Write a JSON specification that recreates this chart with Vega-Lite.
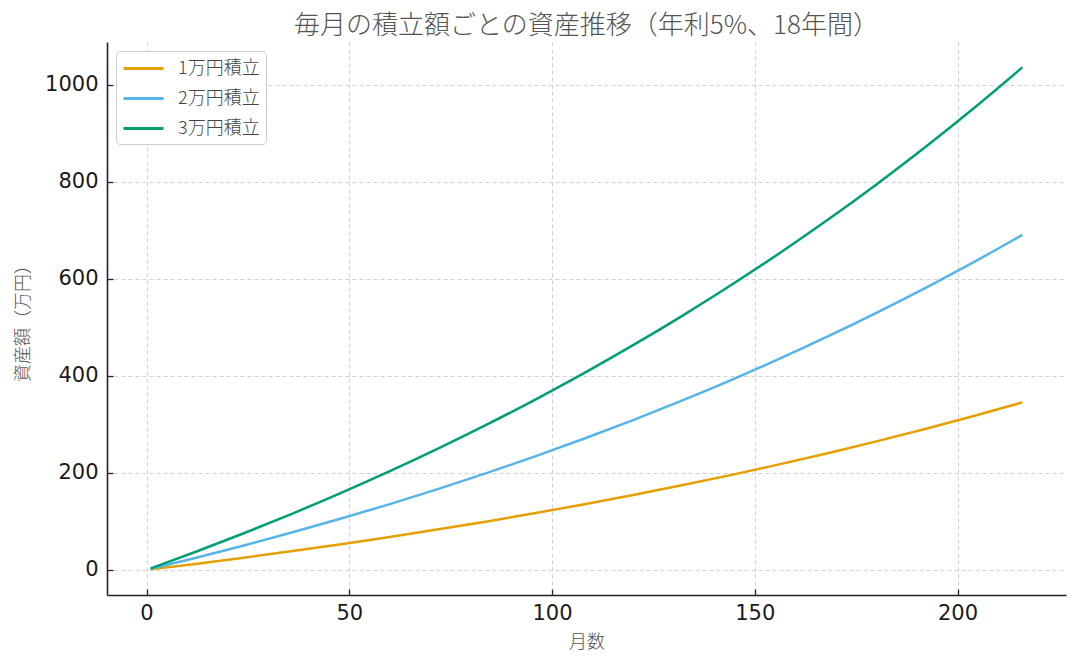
{
  "$schema": "https://vega.github.io/schema/vega-lite/v6.json",
  "autosize": "none",
  "padding": {"left": 107, "top": 42, "right": 14, "bottom": 72},
  "width": 959,
  "height": 553,
  "background": "white",
  "title": {
    "text": "毎月の積立額ごとの資産推移（年利5%、18年間）",
    "font": "Noto Sans CJK JP",
    "fontWeight": 300,
    "fontSize": 26,
    "color": "#555555",
    "anchor": "middle",
    "offset": 3
  },
  "config": {
    "view": {"stroke": null},
    "axis": {
      "domainColor": "#222222",
      "domainWidth": 1.6,
      "tickColor": "#222222",
      "tickSize": -6,
      "tickWidth": 1.3,
      "labelFont": "DejaVu Sans",
      "labelFontSize": 21,
      "labelColor": "#1a1a1a",
      "titleFont": "Noto Sans CJK JP",
      "titleFontWeight": 300,
      "titleFontSize": 18,
      "titleColor": "#555555",
      "gridColor": "#cccccc",
      "gridDash": [4, 3],
      "gridWidth": 0.9
    }
  },
  "data": {
    "values": [
      {"month": 1, "plan": "1万円積立", "value": 1.0},
      {"month": 12, "plan": "1万円積立", "value": 12.3},
      {"month": 24, "plan": "1万円積立", "value": 25.2},
      {"month": 36, "plan": "1万円積立", "value": 38.7},
      {"month": 48, "plan": "1万円積立", "value": 52.9},
      {"month": 60, "plan": "1万円積立", "value": 67.8},
      {"month": 72, "plan": "1万円積立", "value": 83.5},
      {"month": 84, "plan": "1万円積立", "value": 99.9},
      {"month": 96, "plan": "1万円積立", "value": 117.2},
      {"month": 108, "plan": "1万円積立", "value": 135.3},
      {"month": 120, "plan": "1万円積立", "value": 154.4},
      {"month": 132, "plan": "1万円積立", "value": 174.4},
      {"month": 144, "plan": "1万円積立", "value": 195.3},
      {"month": 156, "plan": "1万円積立", "value": 217.4},
      {"month": 168, "plan": "1万円積立", "value": 240.5},
      {"month": 180, "plan": "1万円積立", "value": 264.8},
      {"month": 192, "plan": "1万円積立", "value": 290.3},
      {"month": 204, "plan": "1万円積立", "value": 317.1},
      {"month": 216, "plan": "1万円積立", "value": 345.3},
      {"month": 1, "plan": "2万円積立", "value": 2.0},
      {"month": 12, "plan": "2万円積立", "value": 24.5},
      {"month": 24, "plan": "2万円積立", "value": 50.3},
      {"month": 36, "plan": "2万円積立", "value": 77.4},
      {"month": 48, "plan": "2万円積立", "value": 105.8},
      {"month": 60, "plan": "2万円積立", "value": 135.6},
      {"month": 72, "plan": "2万円積立", "value": 167.0},
      {"month": 84, "plan": "2万円積立", "value": 199.8},
      {"month": 96, "plan": "2万円積立", "value": 234.4},
      {"month": 108, "plan": "2万円積立", "value": 270.7},
      {"month": 120, "plan": "2万円積立", "value": 308.7},
      {"month": 132, "plan": "2万円積立", "value": 348.7},
      {"month": 144, "plan": "2万円積立", "value": 390.7},
      {"month": 156, "plan": "2万円積立", "value": 434.8},
      {"month": 168, "plan": "2万円積立", "value": 481.1},
      {"month": 180, "plan": "2万円積立", "value": 529.7},
      {"month": 192, "plan": "2万円積立", "value": 580.7},
      {"month": 204, "plan": "2万円積立", "value": 634.3},
      {"month": 216, "plan": "2万円積立", "value": 690.5},
      {"month": 1, "plan": "3万円積立", "value": 3.0},
      {"month": 12, "plan": "3万円積立", "value": 36.8},
      {"month": 24, "plan": "3万円積立", "value": 75.5},
      {"month": 36, "plan": "3万円積立", "value": 116.1},
      {"month": 48, "plan": "3万円積立", "value": 158.7},
      {"month": 60, "plan": "3万円積立", "value": 203.4},
      {"month": 72, "plan": "3万円積立", "value": 250.4},
      {"month": 84, "plan": "3万円積立", "value": 299.8},
      {"month": 96, "plan": "3万円積立", "value": 351.6},
      {"month": 108, "plan": "3万円積立", "value": 406.0},
      {"month": 120, "plan": "3万円積立", "value": 463.1},
      {"month": 132, "plan": "3万円積立", "value": 523.1},
      {"month": 144, "plan": "3万円積立", "value": 586.0},
      {"month": 156, "plan": "3万円積立", "value": 652.2},
      {"month": 168, "plan": "3万円積立", "value": 721.6},
      {"month": 180, "plan": "3万円積立", "value": 794.5},
      {"month": 192, "plan": "3万円積立", "value": 871.0},
      {"month": 204, "plan": "3万円積立", "value": 951.4},
      {"month": 216, "plan": "3万円積立", "value": 1035.8}
    ]
  },
  "mark": {"type": "line", "strokeWidth": 2.5, "interpolate": "monotone"},
  "encoding": {
    "x": {
      "field": "month",
      "type": "quantitative",
      "title": "月数",
      "scale": {"domain": [-9.75, 226.75], "nice": false, "zero": false},
      "axis": {"values": [0, 50, 100, 150, 200], "labelPadding": 13, "titlePadding": 10, "labelFlush": false}
    },
    "y": {
      "field": "value",
      "type": "quantitative",
      "title": "資産額（万円）",
      "scale": {"domain": [-51.8, 1088], "nice": false, "zero": false},
      "axis": {"values": [0, 200, 400, 600, 800, 1000], "format": "d", "labelPadding": 15, "titlePadding": 12, "labelFlush": false}
    },
    "color": {
      "field": "plan",
      "type": "nominal",
      "scale": {
        "domain": ["1万円積立", "2万円積立", "3万円積立"],
        "range": ["#E69F00", "#56B4E9", "#009E73"]
      },
      "legend": {
        "title": null,
        "orient": "none",
        "legendX": 9,
        "legendY": 9,
        "direction": "vertical",
        "symbolType": "M-1,0H3",
        "symbolSize": 400,
        "symbolStrokeWidth": 3,
        "symbolFillColor": "transparent",
        "labelFont": "Noto Sans CJK JP",
        "labelFontWeight": 300,
        "labelFontSize": 18,
        "labelColor": "#444444",
        "labelOffset": 33,
        "rowPadding": 9,
        "padding": 6,
        "strokeColor": "#cccccc",
        "cornerRadius": 4,
        "fillColor": "white"
      }
    }
  }
}
